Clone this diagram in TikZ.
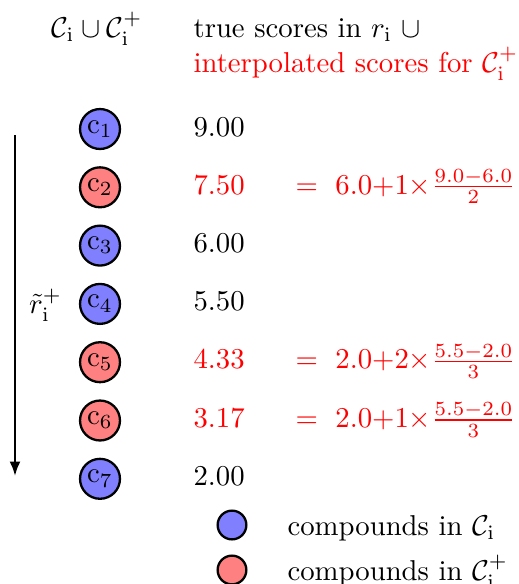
\documentclass[tikz,border=0pt]{standalone}
\usetikzlibrary{arrows.meta}
\begin{document}
\begin{tikzpicture}[x=0.348pt,y=-0.348pt,
  cmp/.style={circle,draw=black,thick,minimum size=13.9pt,inner sep=0pt},
  known/.style={cmp,fill=blue!50},
  interp/.style={cmp,fill=red!50},
  legc/.style={circle,draw=black,thick,minimum size=10pt,inner sep=0pt},
  txt/.style={anchor=base west,inner sep=0pt},
  rtxt/.style={txt,text=red}]
\useasboundingbox (0,0) rectangle (519,584);
% header
\node[anchor=base,inner sep=0pt] (h1) at (97,37) {$\mathcal{C}_{\mathrm{i}}\cup\mathcal{C}_{\mathrm{i}}^{+}$};
\node[txt] (h2) at (193,37) {true scores in $r_{\mathrm{i}}$ $\cup$};
\node[rtxt] (h3) at (193,72) {interpolated scores for $\mathcal{C}_{\mathrm{i}}^{+}$};
% compounds
\node[known]  (c1) at (100,129.0) {$\mathrm{c}_1$};
\node[interp] (c2) at (100,187.3) {$\mathrm{c}_2$};
\node[known]  (c3) at (100,245.6) {$\mathrm{c}_3$};
\node[known]  (c4) at (100,303.9) {$\mathrm{c}_4$};
\node[interp] (c5) at (100,362.2) {$\mathrm{c}_5$};
\node[interp] (c6) at (100,420.5) {$\mathrm{c}_6$};
\node[known]  (c7) at (100,478.8) {$\mathrm{c}_7$};
% scores
\node[txt]  (s1) at (193,136.0) {9.00};
\node[rtxt] (s2) at (193,194.0) {7.50};
\node[txt]  (s3) at (193,252.3) {6.00};
\node[txt]  (s4) at (193,310.6) {5.50};
\node[rtxt] (s5) at (193,368.9) {4.33};
\node[rtxt] (s6) at (193,427.2) {3.17};
\node[txt]  (s7) at (193,485.5) {2.00};
% formulas
\node[rtxt] (f2) at (295,194.0) {$=\ 6.0{+}1{\times}\frac{9.0{-}6.0}{2}$};
\node[rtxt] (f5) at (295,368.9) {$=\ 2.0{+}2{\times}\frac{5.5{-}2.0}{3}$};
\node[rtxt] (f6) at (295,427.2) {$=\ 2.0{+}1{\times}\frac{5.5{-}2.0}{3}$};
% arrow
\coordinate (atop) at (15,135);
\coordinate (abot) at (15,476);
\draw[thick,-{Latex[length=5pt,width=3.8pt]}] (atop) -- node[right,inner sep=4.5pt] (rl) {$\tilde{r}_{\mathrm{i}}^{+}$} (abot);
% legend
\node[legc,fill=blue!50] (l1) at (232,525) {};
\node[legc,fill=red!50]  (l2) at (232,570) {};
\node[txt] (lt1) at (287,535) {compounds in $\mathcal{C}_{\mathrm{i}}$};
\node[txt] (lt2) at (287,580) {compounds in $\mathcal{C}_{\mathrm{i}}^{+}$};
\end{tikzpicture}
\end{document}
